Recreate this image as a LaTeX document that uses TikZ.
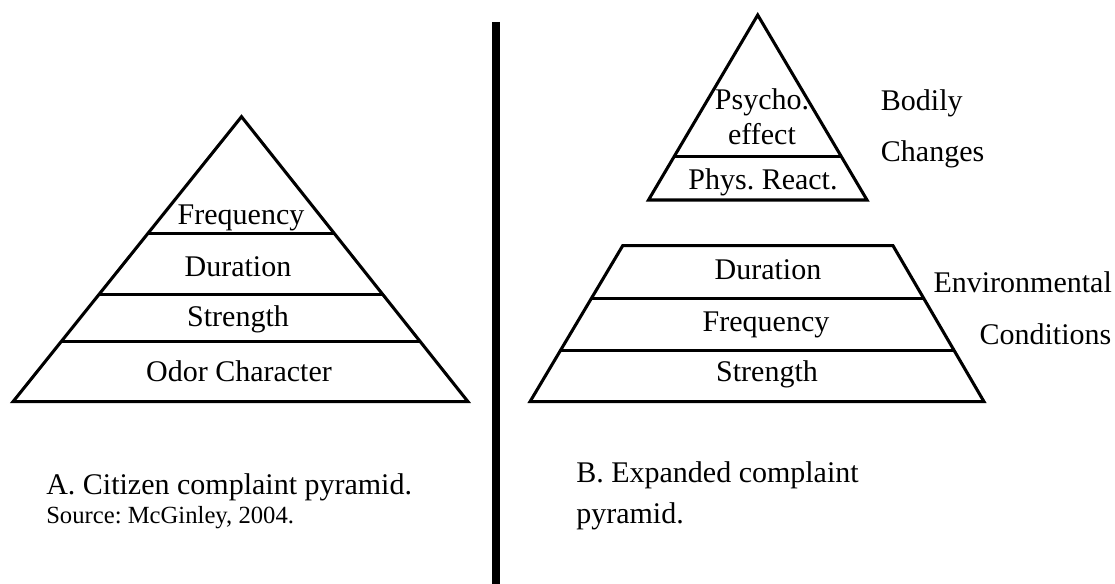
\documentclass[tikz,border=0pt]{standalone}
\usepackage{fontspec}
\setmainfont{Liberation Serif}
\usetikzlibrary{calc}
\frenchspacing
\begin{document}
\begin{tikzpicture}[x=0.75pt,y=-0.75pt,
  edge/.style={line width=2.3pt,line join=miter},
  tier/.style={line width=2.3pt},
  lbl/.style={inner sep=0pt,anchor=base,font=\fontsize{22.5}{27}\selectfont},
  side/.style={inner sep=0pt,anchor=base west,font=\fontsize{22.5}{27}\selectfont},
  small/.style={inner sep=0pt,anchor=base west,font=\fontsize{18.5}{22}\selectfont}]
\useasboundingbox (0,0) rectangle (1115,584);

% ---- left: citizen complaint pyramid ----
\coordinate (lA) at (241.5,116.7);
\coordinate (lL) at (13,401.7);
\coordinate (lR) at (468,401.7);
\draw[edge] (lA) -- (lL) -- (lR) -- cycle;
\foreach \t in {0.4091,0.6232,0.7895}
  \draw[tier] ($(lA)!\t!(lL)$) -- ($(lA)!\t!(lR)$);
\node[lbl] (lfreq) at (241,225) {Frequency};
\node[lbl] (ldur)  at (238,276.7) {Duration};
\node[lbl] (lstr)  at (238,326.7) {Strength};
\node[lbl] (lodor) at (239,381.7) {Odor Character};

\node[side] (capA) at (46,495) {A. Citizen complaint pyramid.};
\node[small] (srcA) at (46,524) {Source: McGinley, 2004.};

% ---- separator ----
\draw[line width=6pt] (496,22) -- (496,584);

% ---- right: expanded complaint pyramid, upper part ----
\coordinate (uA) at (757.7,15);
\coordinate (uL) at (648.5,200);
\coordinate (uR) at (867,200);
\draw[edge] (uA) -- (uL) -- (uR) -- cycle;
\draw[tier] ($(uA)!0.766!(uL)$) -- ($(uA)!0.766!(uR)$);
\node[lbl] (psy)  at (762,110) {Psycho.};
\node[lbl] (eff)  at (762,145) {effect};
\node[lbl] (phys) at (763,190) {Phys. React.};
\node[side] (bod) at (880.7,111) {Bodily};
\node[side] (chg) at (880.7,161.7) {Changes};

% ---- right: lower trapezoid ----
\coordinate (tL) at (622.7,245.7);
\coordinate (tR) at (893,245.7);
\coordinate (bL) at (530,401.7);
\coordinate (bR) at (984,401.7);
\draw[edge] (tL) -- (tR) -- (bR) -- (bL) -- cycle;
\foreach \t in {0.337,0.669}
  \draw[tier] ($(tL)!\t!(bL)$) -- ($(tR)!\t!(bR)$);
\node[lbl] (rdur)  at (768,280) {Duration};
\node[lbl] (rfreq) at (766,331.7) {Frequency};
\node[lbl] (rstr)  at (767,381.7) {Strength};
\node[side] (env) at (933.3,292.7) {Environmental};
\node[side] (cond) at (979.3,345) {Conditions};

\node[side] (capB) at (576,483) {B. Expanded complaint};
\node[side] (capB2) at (576,524) {pyramid.};
\end{tikzpicture}
\end{document}
